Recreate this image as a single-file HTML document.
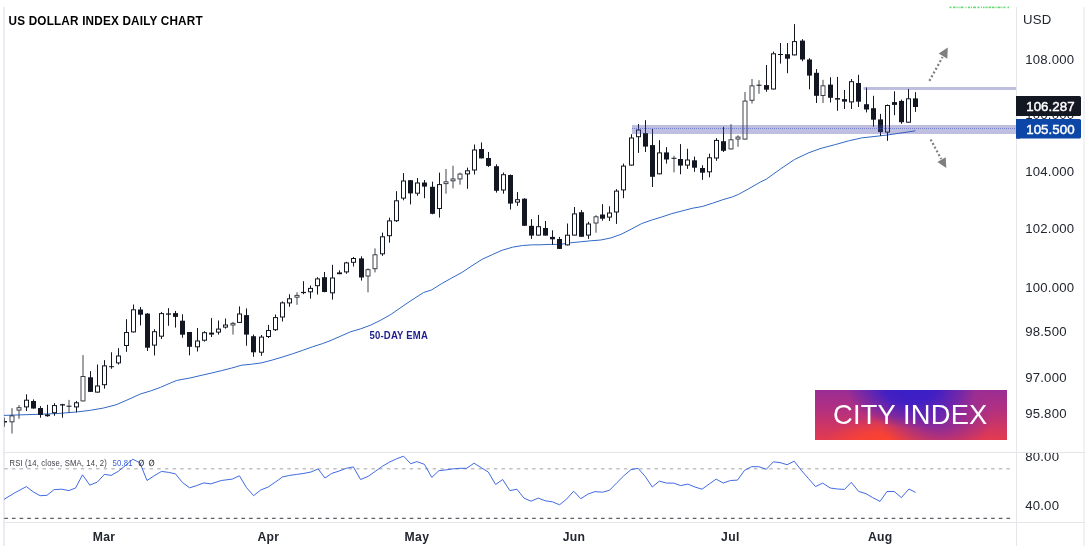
<!DOCTYPE html>
<html><head><meta charset="utf-8"><title>US Dollar Index Daily Chart</title>
<style>
html,body{margin:0;padding:0;background:#fff;}
body{width:1085px;height:546px;overflow:hidden;position:relative;font-family:"Liberation Sans",sans-serif;}
svg{position:absolute;left:0;top:0;will-change:transform;}
svg text{font-family:"Liberation Sans",sans-serif;}
#logo{position:absolute;left:815px;top:390px;width:192px;height:50px;
background:
 radial-gradient(ellipse 34% 85% at 50% -8%, rgba(56,30,200,1) 0%, rgba(56,30,200,0.9) 40%, rgba(56,30,200,0) 100%),
 radial-gradient(ellipse 30% 75% at 63% 55%, rgba(110,38,176,0.9) 0%, rgba(110,38,176,0) 100%),
 radial-gradient(ellipse 31% 55% at 36% 108%, rgba(255,68,44,1) 0%, rgba(255,68,44,0.7) 45%, rgba(255,68,44,0) 100%),
 linear-gradient(180deg, #9a2d94 0%, #b33080 40%, #d8385a 85%, #e23a50 100%);
}
#logo span{will-change:transform;position:absolute;left:17.9px;top:10.4px;color:#fff;font-size:27.3px;line-height:29px;letter-spacing:0.17px;white-space:nowrap;}
</style></head>
<body>
<svg width="1085" height="546" viewBox="0 0 1085 546">
<rect x="3.2" y="7" width="1.6" height="539" fill="#e6e8ee"/>
<rect x="1016" y="7" width="1" height="539" fill="#e5e6ea"/>
<rect x="1083.5" y="7" width="1" height="539" fill="#e5e6ea"/>
<rect x="4" y="452" width="1081" height="1" fill="#e5e6ea"/>
<rect x="4" y="522" width="1081" height="1" fill="#e5e6ea"/>
<g fill="#35cc44" opacity="0.75">
<rect x="949.5" y="6.6" width="2" height="1.6"/>
<rect x="953" y="6.6" width="2.5" height="1.6"/>
<rect x="956.5" y="6.6" width="1" height="1.6"/>
<rect x="958.5" y="6.6" width="1" height="1.6"/>
<rect x="960.5" y="6.6" width="3" height="1.6"/>
<rect x="965.5" y="6.6" width="1" height="1.6"/>
<rect x="968" y="6.6" width="2" height="1.6"/>
<rect x="971" y="6.6" width="1" height="1.6"/>
<rect x="973" y="6.6" width="3" height="1.6"/>
<rect x="977.5" y="6.6" width="2" height="1.6"/>
<rect x="981" y="6.6" width="1" height="1.6"/>
<rect x="983" y="6.6" width="1.5" height="1.6"/>
<rect x="985.5" y="6.6" width="2" height="1.6"/>
<rect x="988.5" y="6.6" width="2.5" height="1.6"/>
<rect x="992" y="6.6" width="2.5" height="1.6"/>
<rect x="995.5" y="6.6" width="1" height="1.6"/>
<rect x="997.5" y="6.6" width="3" height="1.6"/>
<rect x="1001.5" y="6.6" width="1" height="1.6"/>
<rect x="1003.5" y="6.6" width="2" height="1.6"/>
<rect x="1007.5" y="6.6" width="1.5" height="1.6"/>
</g>
<polyline points="3.9,415.4 19.4,414.9 38.7,414.3 58,413.5 77.4,411.9 90.3,410.3 103.2,408.1 116,404.8 120,403.1 130.1,398.7 140.3,394 150.4,391 160.6,387.3 170.7,382.9 176.8,380.4 191,377.8 201.1,375.4 211.2,373.1 221.4,370.7 231.5,368.1 241.7,365.2 251.8,364.2 261.9,362.8 272.1,360.1 282.2,357.1 292.3,353.9 302.5,350.4 312.6,346.8 322.8,343.5 330,340.8 340.1,336.4 350.3,331.9 360.4,328.9 370.6,325.2 380.7,320.2 390.8,314.5 401,307.4 411.1,300.5 423.6,292.5 431.7,289.9 441.5,283.7 451.7,278 461.8,272.5 471.9,265.8 482.1,259.3 492.2,254.7 502.3,250.2 512.5,247.2 522.6,245.5 532.8,244.8 540,244.8 550.1,244.4 560.3,244.4 570.4,242.8 580.6,241.8 590.7,240.8 600.8,240 611,237.9 621.1,234.3 631.2,229.2 641.4,223.7 651.5,220.1 661.7,217 671.8,213.6 681.9,211 692.1,208.3 702.2,206.5 712.3,203.3 722.5,199.8 732.6,196.8 738.7,194.3 748.8,188.7 760.3,182.1 766.4,179.1 780.6,168.9 794.7,159.4 808.9,152.7 821.1,148.3 835.3,144.6 849.5,140.6 861.7,137.9 877.9,136.1 888,134.9 902.2,132.8 915.4,130.8" fill="none" stroke="#3168c6" stroke-width="1" stroke-linejoin="round"/>
<clipPath id="cc"><rect x="4.4" y="7" width="1012" height="440"/></clipPath>
<g stroke="#131722" stroke-width="1" clip-path="url(#cc)">
<line x1="4.5" y1="417.7" x2="4.5" y2="426.8"/>
<rect x="2" y="421" width="5" height="1.5" fill="#131722" stroke="none"/>
<line x1="12" y1="408.1" x2="12" y2="433.5" stroke-opacity="0.8"/>
<rect x="10" y="415.9" width="4" height="5.9" fill="#fff" stroke-opacity="0.8"/>
<line x1="19" y1="405.1" x2="19" y2="418.8" stroke-opacity="0.8"/>
<rect x="17" y="407.7" width="4" height="2.4" fill="#fff" stroke-opacity="0.8"/>
<line x1="26.5" y1="394.3" x2="26.5" y2="411"/>
<rect x="24.5" y="400.2" width="4" height="6.7" fill="#fff"/>
<line x1="33.5" y1="399.4" x2="33.5" y2="408.7"/>
<rect x="31" y="401" width="5" height="7.5" fill="#131722" stroke="none"/>
<line x1="40.5" y1="406.1" x2="40.5" y2="417.7"/>
<rect x="38" y="408" width="5" height="6.9" fill="#131722" stroke="none"/>
<line x1="47.5" y1="404.8" x2="47.5" y2="416.7"/>
<rect x="45" y="414.5" width="5" height="1.7" fill="#131722" stroke="none"/>
<line x1="54.5" y1="403.2" x2="54.5" y2="415.8"/>
<rect x="52.5" y="405.6" width="4" height="7.1" fill="#fff"/>
<line x1="62.5" y1="403.8" x2="62.5" y2="417.7"/>
<rect x="60" y="404.2" width="5" height="1.3" fill="#131722" stroke="none"/>
<line x1="69" y1="399.9" x2="69" y2="412.8" stroke-opacity="0.8"/>
<rect x="66.5" y="405.7" width="5" height="1" fill="#131722" stroke="none"/>
<line x1="76.5" y1="401" x2="76.5" y2="412.3"/>
<rect x="74.5" y="402.8" width="4" height="4.1" fill="#fff"/>
<line x1="83" y1="355.1" x2="83" y2="401.4" stroke-opacity="0.8"/>
<rect x="81" y="376.5" width="4" height="24.4" fill="#fff" stroke-opacity="0.8"/>
<line x1="90.5" y1="371.1" x2="90.5" y2="391.9"/>
<rect x="88" y="377.3" width="5" height="14.6" fill="#131722" stroke="none"/>
<line x1="97.5" y1="364.5" x2="97.5" y2="392.6"/>
<rect x="95.5" y="386" width="4" height="6.1" fill="#fff"/>
<line x1="104.5" y1="360.1" x2="104.5" y2="388.7"/>
<rect x="102.5" y="365.9" width="4" height="18.8" fill="#fff"/>
<line x1="111.5" y1="352.3" x2="111.5" y2="368.8"/>
<rect x="109" y="366.2" width="5" height="1" fill="#131722" stroke="none"/>
<line x1="118.5" y1="348.2" x2="118.5" y2="364.5"/>
<rect x="116.5" y="356" width="4" height="6.9" fill="#fff"/>
<line x1="126.5" y1="319.2" x2="126.5" y2="351.8"/>
<rect x="124.5" y="332.5" width="4" height="13" fill="#fff"/>
<line x1="133.5" y1="304.5" x2="133.5" y2="332.4"/>
<rect x="131.5" y="309.8" width="4" height="22.1" fill="#fff"/>
<line x1="140.5" y1="307" x2="140.5" y2="325.5"/>
<rect x="138" y="309.5" width="5" height="5.2" fill="#131722" stroke="none"/>
<line x1="147.5" y1="313" x2="147.5" y2="351"/>
<rect x="145" y="313.6" width="5" height="34.1" fill="#131722" stroke="none"/>
<line x1="154.5" y1="329.2" x2="154.5" y2="355.5"/>
<rect x="152.5" y="331.7" width="4" height="13.4" fill="#fff"/>
<line x1="161.5" y1="311.9" x2="161.5" y2="339"/>
<rect x="159.5" y="313.6" width="4" height="22.6" fill="#fff"/>
<line x1="168.5" y1="308.1" x2="168.5" y2="325.8"/>
<rect x="166" y="313.4" width="5" height="1.3" fill="#131722" stroke="none"/>
<line x1="175.5" y1="310.9" x2="175.5" y2="327.6"/>
<rect x="173" y="313.1" width="5" height="3.8" fill="#131722" stroke="none"/>
<line x1="182.5" y1="314.3" x2="182.5" y2="337.7"/>
<rect x="180" y="320.7" width="5" height="14" fill="#131722" stroke="none"/>
<line x1="189.5" y1="332" x2="189.5" y2="355.4"/>
<rect x="187" y="332" width="5" height="14.8" fill="#131722" stroke="none"/>
<line x1="197.5" y1="328" x2="197.5" y2="351.5"/>
<rect x="195.5" y="341" width="4" height="5.8" fill="#fff"/>
<line x1="204.5" y1="331.2" x2="204.5" y2="341.6"/>
<rect x="202.5" y="332.7" width="4" height="7.5" fill="#fff"/>
<line x1="211.5" y1="318.1" x2="211.5" y2="337"/>
<rect x="209" y="332.6" width="5" height="2" fill="#131722" stroke="none"/>
<line x1="218.5" y1="320.5" x2="218.5" y2="334.6"/>
<rect x="216.5" y="329.1" width="4" height="3" fill="#fff"/>
<line x1="225.5" y1="318.5" x2="225.5" y2="328.6"/>
<rect x="223.5" y="325" width="4" height="2.1" fill="#fff"/>
<line x1="233" y1="321.9" x2="233" y2="334.6" stroke-opacity="0.8"/>
<rect x="231" y="323.4" width="4" height="1.6" fill="#fff" stroke-opacity="0.8"/>
<line x1="239.5" y1="306.4" x2="239.5" y2="322.9"/>
<rect x="237.5" y="314" width="4" height="8.4" fill="#fff"/>
<line x1="246.5" y1="308.4" x2="246.5" y2="345.7"/>
<rect x="244" y="315.1" width="5" height="19.5" fill="#131722" stroke="none"/>
<line x1="253.5" y1="334.6" x2="253.5" y2="356.8"/>
<rect x="251" y="336.2" width="5" height="16.1" fill="#131722" stroke="none"/>
<line x1="261.5" y1="335" x2="261.5" y2="355.8"/>
<rect x="259.5" y="337.1" width="4" height="15.1" fill="#fff"/>
<line x1="268.5" y1="324.9" x2="268.5" y2="338"/>
<rect x="266.5" y="330.5" width="4" height="6" fill="#fff"/>
<line x1="275.5" y1="314.5" x2="275.5" y2="331"/>
<rect x="273.5" y="317.6" width="4" height="12.1" fill="#fff"/>
<line x1="282.5" y1="301.4" x2="282.5" y2="321.5"/>
<rect x="280.5" y="302.9" width="4" height="14.1" fill="#fff"/>
<line x1="289.5" y1="294.3" x2="289.5" y2="306.8"/>
<rect x="287.5" y="298.8" width="4" height="4.1" fill="#fff"/>
<line x1="297" y1="292.3" x2="297" y2="304.8" stroke-opacity="0.8"/>
<rect x="295" y="295.4" width="4" height="1.8" fill="#fff" stroke-opacity="0.8"/>
<line x1="303.5" y1="281.2" x2="303.5" y2="294.2"/>
<rect x="301" y="291.9" width="5" height="1.2" fill="#131722" stroke="none"/>
<line x1="310.5" y1="285.6" x2="310.5" y2="298.6"/>
<rect x="308.5" y="288.4" width="4" height="3.4" fill="#fff"/>
<line x1="317.5" y1="277.2" x2="317.5" y2="294.5"/>
<rect x="315.5" y="278.9" width="4" height="6.8" fill="#fff"/>
<line x1="324.5" y1="272" x2="324.5" y2="292.3"/>
<rect x="322" y="277.2" width="5" height="14.8" fill="#131722" stroke="none"/>
<line x1="332.5" y1="264.8" x2="332.5" y2="299.6"/>
<rect x="330.5" y="278" width="4" height="14.8" fill="#fff"/>
<line x1="339.5" y1="270.3" x2="339.5" y2="274.2"/>
<rect x="337.5" y="272.9" width="4" height="0.8" fill="#fff"/>
<line x1="346.5" y1="261.8" x2="346.5" y2="273.8"/>
<rect x="344.5" y="262.9" width="4" height="9" fill="#fff"/>
<line x1="353.5" y1="257" x2="353.5" y2="266.5"/>
<rect x="351.5" y="258.5" width="4" height="3.8" fill="#fff"/>
<line x1="361.5" y1="256.3" x2="361.5" y2="280.6"/>
<rect x="359" y="258.4" width="5" height="19.1" fill="#131722" stroke="none"/>
<line x1="368" y1="268.3" x2="368" y2="292.3" stroke-opacity="0.8"/>
<rect x="366" y="269.7" width="4" height="6.3" fill="#fff" stroke-opacity="0.8"/>
<line x1="375" y1="248.4" x2="375" y2="272.4" stroke-opacity="0.8"/>
<rect x="373" y="254.8" width="4" height="13.9" fill="#fff" stroke-opacity="0.8"/>
<line x1="382.5" y1="232.6" x2="382.5" y2="255.9"/>
<rect x="380.5" y="236.8" width="4" height="17" fill="#fff"/>
<line x1="389.5" y1="217.6" x2="389.5" y2="242.6"/>
<rect x="387.5" y="220.9" width="4" height="14.8" fill="#fff"/>
<line x1="396.5" y1="191.2" x2="396.5" y2="222"/>
<rect x="394.5" y="200.8" width="4" height="19.9" fill="#fff"/>
<line x1="403.5" y1="173.1" x2="403.5" y2="200.3"/>
<rect x="401.5" y="181" width="4" height="17.1" fill="#fff"/>
<line x1="410.5" y1="180" x2="410.5" y2="204.4"/>
<rect x="408" y="180.2" width="5" height="13.2" fill="#131722" stroke="none"/>
<line x1="417.5" y1="178" x2="417.5" y2="195.8"/>
<rect x="415.5" y="183" width="4" height="10.2" fill="#fff"/>
<line x1="424.5" y1="180" x2="424.5" y2="198.2"/>
<rect x="422" y="182.5" width="5" height="4.1" fill="#131722" stroke="none"/>
<line x1="432.5" y1="181.7" x2="432.5" y2="214.3"/>
<rect x="430" y="186.8" width="5" height="27" fill="#131722" stroke="none"/>
<line x1="439.5" y1="172.6" x2="439.5" y2="217.6"/>
<rect x="437.5" y="184.6" width="4" height="23.9" fill="#fff"/>
<line x1="446" y1="169" x2="446" y2="193.7" stroke-opacity="0.8"/>
<rect x="444" y="181.8" width="4" height="1.8" fill="#fff" stroke-opacity="0.8"/>
<line x1="453" y1="165.7" x2="453" y2="188.4" stroke-opacity="0.8"/>
<rect x="451" y="179" width="4" height="1.8" fill="#fff" stroke-opacity="0.8"/>
<line x1="460" y1="172.6" x2="460" y2="184.6" stroke-opacity="0.8"/>
<rect x="458" y="174.1" width="4" height="4.8" fill="#fff" stroke-opacity="0.8"/>
<line x1="467.5" y1="167.6" x2="467.5" y2="188.8"/>
<rect x="465.5" y="170.8" width="4" height="3.1" fill="#fff"/>
<line x1="474.5" y1="144.5" x2="474.5" y2="174.5"/>
<rect x="472.5" y="150" width="4" height="20" fill="#fff"/>
<line x1="481.5" y1="142.4" x2="481.5" y2="158.4"/>
<rect x="479" y="149" width="5" height="9.4" fill="#131722" stroke="none"/>
<line x1="488.5" y1="152" x2="488.5" y2="166.9"/>
<rect x="486" y="158" width="5" height="7.9" fill="#131722" stroke="none"/>
<line x1="496.5" y1="164.3" x2="496.5" y2="192.6"/>
<rect x="494" y="166.2" width="5" height="24.6" fill="#131722" stroke="none"/>
<line x1="503.5" y1="172.5" x2="503.5" y2="193.7"/>
<rect x="501.5" y="174.7" width="4" height="15.3" fill="#fff"/>
<line x1="510.5" y1="174.5" x2="510.5" y2="209.5"/>
<rect x="508" y="175" width="5" height="28.6" fill="#131722" stroke="none"/>
<line x1="517.5" y1="192.1" x2="517.5" y2="205.9"/>
<rect x="515.5" y="199.7" width="4" height="2.4" fill="#fff"/>
<line x1="524.5" y1="198.2" x2="524.5" y2="225.8"/>
<rect x="522" y="198.7" width="5" height="27.1" fill="#131722" stroke="none"/>
<line x1="531.5" y1="219.1" x2="531.5" y2="238.9"/>
<rect x="529" y="225.8" width="5" height="9.8" fill="#131722" stroke="none"/>
<line x1="538.5" y1="214.9" x2="538.5" y2="235.6"/>
<rect x="536.5" y="226.7" width="4" height="8.4" fill="#fff"/>
<line x1="545.5" y1="221" x2="545.5" y2="235.6"/>
<rect x="543" y="228" width="5" height="7.6" fill="#131722" stroke="none"/>
<line x1="552.5" y1="230.3" x2="552.5" y2="244.8"/>
<rect x="550" y="236.9" width="5" height="2.4" fill="#131722" stroke="none"/>
<line x1="559.5" y1="236.9" x2="559.5" y2="248.9"/>
<rect x="557" y="239" width="5" height="9.9" fill="#131722" stroke="none"/>
<line x1="567.5" y1="223.5" x2="567.5" y2="245.4"/>
<rect x="565.5" y="235.2" width="4" height="9.7" fill="#fff"/>
<line x1="574.5" y1="207" x2="574.5" y2="235.6"/>
<rect x="572.5" y="213.9" width="4" height="21.2" fill="#fff"/>
<line x1="581.5" y1="210.1" x2="581.5" y2="236.8"/>
<rect x="579" y="212.2" width="5" height="24.6" fill="#131722" stroke="none"/>
<line x1="588.5" y1="221.8" x2="588.5" y2="238.9"/>
<rect x="586.5" y="224" width="4" height="11.1" fill="#fff"/>
<line x1="596" y1="215.2" x2="596" y2="232.7" stroke-opacity="0.8"/>
<rect x="594" y="216.8" width="4" height="6.2" fill="#fff" stroke-opacity="0.8"/>
<line x1="602.5" y1="204.2" x2="602.5" y2="220.7"/>
<rect x="600" y="214.5" width="5" height="4.2" fill="#131722" stroke="none"/>
<line x1="609.5" y1="206.3" x2="609.5" y2="221"/>
<rect x="607.5" y="213" width="4" height="4.1" fill="#fff"/>
<line x1="616.5" y1="189.1" x2="616.5" y2="223.9"/>
<rect x="614.5" y="191.1" width="4" height="20.9" fill="#fff"/>
<line x1="623.5" y1="163.6" x2="623.5" y2="198.2"/>
<rect x="621.5" y="166.1" width="4" height="23.8" fill="#fff"/>
<line x1="631.5" y1="134.2" x2="631.5" y2="165.6"/>
<rect x="629.5" y="138" width="4" height="27.1" fill="#fff"/>
<line x1="638.5" y1="124" x2="638.5" y2="152.9"/>
<rect x="636.5" y="130" width="4" height="6.7" fill="#fff"/>
<line x1="645.5" y1="120.2" x2="645.5" y2="152"/>
<rect x="643" y="133.1" width="5" height="13.5" fill="#131722" stroke="none"/>
<line x1="652.5" y1="129" x2="652.5" y2="187"/>
<rect x="650" y="145.1" width="5" height="31.7" fill="#131722" stroke="none"/>
<line x1="659.5" y1="140.2" x2="659.5" y2="174.3"/>
<rect x="657.5" y="152.9" width="4" height="20.9" fill="#fff"/>
<line x1="666.5" y1="147.1" x2="666.5" y2="163.6"/>
<rect x="664" y="152.4" width="5" height="7.1" fill="#131722" stroke="none"/>
<line x1="674" y1="155.8" x2="674" y2="172.3" stroke-opacity="0.8"/>
<rect x="671.5" y="157.8" width="5" height="1" fill="#131722" stroke="none"/>
<line x1="680.5" y1="144.1" x2="680.5" y2="174.3"/>
<rect x="678" y="159" width="5" height="6.6" fill="#131722" stroke="none"/>
<line x1="687.5" y1="148.8" x2="687.5" y2="168.9"/>
<rect x="685.5" y="160" width="4" height="5.1" fill="#fff"/>
<line x1="694.5" y1="156.5" x2="694.5" y2="171.8"/>
<rect x="692" y="160.3" width="5" height="7.4" fill="#131722" stroke="none"/>
<line x1="702.5" y1="165.2" x2="702.5" y2="179.8"/>
<rect x="700" y="168" width="5" height="4.7" fill="#131722" stroke="none"/>
<line x1="709.5" y1="153.7" x2="709.5" y2="177.3"/>
<rect x="707.5" y="157.8" width="4" height="14" fill="#fff"/>
<line x1="716.5" y1="138.1" x2="716.5" y2="160.8"/>
<rect x="714.5" y="140.4" width="4" height="17.6" fill="#fff"/>
<line x1="723.5" y1="126.8" x2="723.5" y2="152"/>
<rect x="721" y="141.2" width="5" height="9.6" fill="#131722" stroke="none"/>
<line x1="731" y1="124.2" x2="731" y2="149.4" stroke-opacity="0.8"/>
<rect x="729" y="139.8" width="4" height="9.1" fill="#fff" stroke-opacity="0.8"/>
<line x1="738" y1="135.3" x2="738" y2="146.8" stroke-opacity="0.8"/>
<rect x="736" y="137.1" width="4" height="1.9" fill="#fff" stroke-opacity="0.8"/>
<line x1="745" y1="92" x2="745" y2="139.6" stroke-opacity="0.8"/>
<rect x="743" y="101.1" width="4" height="38" fill="#fff" stroke-opacity="0.8"/>
<line x1="752" y1="79" x2="752" y2="103.5" stroke-opacity="0.8"/>
<rect x="750" y="85.9" width="4" height="14.4" fill="#fff" stroke-opacity="0.8"/>
<line x1="759" y1="80.2" x2="759" y2="93.8" stroke-opacity="0.8"/>
<rect x="756.5" y="84.7" width="5" height="1" fill="#131722" stroke="none"/>
<line x1="766.5" y1="65" x2="766.5" y2="91.8"/>
<rect x="764" y="85.1" width="5" height="4.6" fill="#131722" stroke="none"/>
<line x1="773.5" y1="51.6" x2="773.5" y2="89.5"/>
<rect x="771.5" y="53.8" width="4" height="35.2" fill="#fff"/>
<line x1="780.5" y1="43" x2="780.5" y2="63.6"/>
<rect x="778" y="54" width="5" height="1" fill="#131722" stroke="none"/>
<line x1="787.5" y1="43" x2="787.5" y2="73.2"/>
<rect x="785" y="54.2" width="5" height="4.5" fill="#131722" stroke="none"/>
<line x1="794.5" y1="24.1" x2="794.5" y2="55.4"/>
<rect x="792.5" y="41.6" width="4" height="13.3" fill="#fff"/>
<line x1="802.5" y1="39.2" x2="802.5" y2="61.2"/>
<rect x="800" y="40.6" width="5" height="18.9" fill="#131722" stroke="none"/>
<line x1="809.5" y1="58.2" x2="809.5" y2="89.3"/>
<rect x="807" y="59.5" width="5" height="16.1" fill="#131722" stroke="none"/>
<line x1="816.5" y1="69.1" x2="816.5" y2="103"/>
<rect x="814" y="72.8" width="5" height="23" fill="#131722" stroke="none"/>
<line x1="823" y1="79.8" x2="823" y2="103" stroke-opacity="0.8"/>
<rect x="821" y="85.8" width="4" height="9.7" fill="#fff" stroke-opacity="0.8"/>
<line x1="830.5" y1="77.2" x2="830.5" y2="102.5"/>
<rect x="828" y="84.6" width="5" height="13.2" fill="#131722" stroke="none"/>
<line x1="837.5" y1="76.9" x2="837.5" y2="110.8"/>
<rect x="835" y="98.1" width="5" height="1.5" fill="#131722" stroke="none"/>
<line x1="844.5" y1="90" x2="844.5" y2="109"/>
<rect x="842" y="99.1" width="5" height="2.5" fill="#131722" stroke="none"/>
<line x1="851.5" y1="79" x2="851.5" y2="109"/>
<rect x="849.5" y="81.7" width="4" height="20.2" fill="#fff"/>
<line x1="858.5" y1="74.8" x2="858.5" y2="107"/>
<rect x="856" y="83" width="5" height="18.7" fill="#131722" stroke="none"/>
<line x1="866.5" y1="87.5" x2="866.5" y2="112.4"/>
<rect x="864" y="104.2" width="5" height="5.3" fill="#131722" stroke="none"/>
<line x1="873.5" y1="95.8" x2="873.5" y2="126.8"/>
<rect x="871" y="108.2" width="5" height="11.5" fill="#131722" stroke="none"/>
<line x1="880.5" y1="113.9" x2="880.5" y2="135.9"/>
<rect x="878" y="119.4" width="5" height="12.7" fill="#131722" stroke="none"/>
<line x1="887.5" y1="104.5" x2="887.5" y2="140.8"/>
<rect x="885.5" y="105.5" width="4" height="26.6" fill="#fff"/>
<line x1="894.5" y1="91.3" x2="894.5" y2="115.2"/>
<rect x="892" y="102.1" width="5" height="2.8" fill="#131722" stroke="none"/>
<line x1="901.5" y1="99.6" x2="901.5" y2="123.8"/>
<rect x="899" y="100.9" width="5" height="21.3" fill="#131722" stroke="none"/>
<line x1="908.5" y1="88.9" x2="908.5" y2="122.7"/>
<rect x="906.5" y="98.8" width="4" height="23.4" fill="#fff"/>
<line x1="915.5" y1="92.2" x2="915.5" y2="111.9"/>
<rect x="913" y="98.4" width="5" height="8.6" fill="#131722" stroke="none"/>
</g>
<rect x="632" y="125" width="384" height="9" fill="rgb(69,69,169)" fill-opacity="0.35"/>
<line x1="632" y1="128.5" x2="1016" y2="128.5" stroke="#3f55c0" stroke-width="1" stroke-dasharray="1 1" opacity="0.55"/>
<rect x="863.5" y="87" width="152.5" height="3" fill="rgb(69,69,169)" fill-opacity="0.35"/>
<g stroke="#7f7f7f" fill="#7f7f7f">
<line x1="929.4" y1="80.9" x2="942.6" y2="57" stroke-width="2.2" stroke-dasharray="2 2.3"/>
<polygon points="947.8,47.6 938.7,53.6 947.3,58.7" stroke="none"/>
<line x1="930.6" y1="139.4" x2="941.2" y2="159" stroke-width="2.2" stroke-dasharray="2 2.2"/>
<polygon points="945.7,157.3 937.4,162.1 946.3,168.1" stroke="none"/>
</g>
<line x1="4.3" y1="468.7" x2="1012" y2="468.7" stroke="#c2c2c2" stroke-width="1.5" stroke-dasharray="3.4 4.25"/>
<line x1="4.3" y1="518.4" x2="1012" y2="518.4" stroke="#5c6068" stroke-width="1.1" stroke-dasharray="3.6 4.05"/>
<polyline points="4.1,499.3 15.2,492.6 26.4,486.6 33.5,492 40.1,495.7 47,495.3 54.1,489.6 61.8,489.2 68.9,490.6 75.6,488 82.5,474.8 89.8,485.1 97.3,482.1 104.4,474.4 111.1,475.4 118.2,471.4 125.7,465.3 132.8,459.2 139.9,462.8 147,480.5 154.1,475.8 161.6,471.4 168.7,472.4 175.4,473.8 182.5,482.5 189.6,487.8 196.7,485.6 203.8,482.9 210.9,483.9 221.2,480.5 232.3,479.1 239.4,475.8 246.5,487.6 253.6,495.7 260.7,490 268.2,487 275.3,482.1 282.4,477 289.7,475.4 296.8,474.4 303.9,473.4 311,472 318.1,468.9 325,478 331.7,473.4 339.2,471 346.3,468.3 353.3,466.9 360.6,479.5 368.1,476.4 375.2,471.4 382.3,466.3 389.4,462.2 396.5,458.8 403.6,456.2 410.7,463.7 416.8,461.6 424.4,464.3 431.8,477.4 438.9,470.7 445.7,469.9 452.8,468.9 459.9,468.3 466.6,468.3 474.1,463.2 481.2,467.7 488.3,472 495.6,484.5 502.7,479.5 509.8,490.6 516.9,489.2 524,498.1 531.1,501.2 538.2,498.1 545.3,500.8 552.4,501.8 559.5,504.8 566.6,499.1 573.7,491.2 580.8,498.7 587.9,494.1 595,491.6 602.5,492.2 609.6,490.2 616.7,482.9 623.8,475.8 630.9,469.7 638,468.3 645.2,476.4 652.3,487 659.4,481.1 666.5,483.1 673.6,483.1 680.7,485.6 687.8,484.1 694.9,487 702,489.2 709.1,484.1 716.2,479.1 723.3,483.1 730.4,480.5 737.5,480.1 744.6,470.3 751.7,466.7 758.8,466.7 766.3,469.3 773.4,461.8 780,462.6 787.1,464.7 794.2,461.2 801.3,470.3 808.4,478.5 815.5,486.6 822.6,483.1 830.3,488 837.4,489 844.5,489.4 851.3,482.4 858.5,491.3 866,493.7 872.7,497.6 880,501.4 887,491.5 894.2,491.5 901.4,497.6 908.9,489 915.6,492.4" fill="none" stroke="#3762e0" stroke-width="0.95" stroke-linejoin="round"/>
<text x="1023" y="23.8" font-size="13.2" fill="#22262f" font-weight="normal" text-anchor="start" letter-spacing="0.2" >USD</text>
<text x="1025.2" y="63.8" font-size="13.2" fill="#22262f" font-weight="normal" text-anchor="start" letter-spacing="0.2" >108.000</text>
<text x="1025.2" y="119.3" font-size="13.2" fill="#22262f" font-weight="normal" text-anchor="start" letter-spacing="0.2" >106.000</text>
<text x="1025.2" y="175.8" font-size="13.2" fill="#22262f" font-weight="normal" text-anchor="start" letter-spacing="0.2" >104.000</text>
<text x="1025.2" y="232.8" font-size="13.2" fill="#22262f" font-weight="normal" text-anchor="start" letter-spacing="0.2" >102.000</text>
<text x="1025.2" y="291.8" font-size="13.2" fill="#22262f" font-weight="normal" text-anchor="start" letter-spacing="0.2" >100.000</text>
<text x="1025.2" y="336.3" font-size="13.2" fill="#22262f" font-weight="normal" text-anchor="start" letter-spacing="0.2" >98.500</text>
<text x="1025.2" y="381.7" font-size="13.2" fill="#22262f" font-weight="normal" text-anchor="start" letter-spacing="0.2" >97.000</text>
<text x="1025.2" y="418.4" font-size="13.2" fill="#22262f" font-weight="normal" text-anchor="start" letter-spacing="0.2" >95.800</text>
<rect x="1016" y="96" width="65" height="20" rx="1.5" fill="#131722"/>
<rect x="1016" y="119" width="65" height="19.6" rx="1.5" fill="#0c46a6"/>
<rect x="1016" y="96" width="4" height="20" fill="#131722"/>
<rect x="1016" y="119" width="4" height="19.6" fill="#0c46a6"/>
<text x="1026.2" y="111.3" font-size="13.3" fill="#fff" font-weight="normal" text-anchor="start" letter-spacing="0.05" stroke="#fff" stroke-width="0.45">106.287</text>
<text x="1026.2" y="134.1" font-size="13.3" fill="#fff" font-weight="normal" text-anchor="start" letter-spacing="0.05" stroke="#fff" stroke-width="0.45">105.500</text>
<clipPath id="c80"><rect x="1017" y="453" width="67" height="20"/></clipPath>
<text x="1025.2" y="460.9" font-size="13.2" fill="#22262f" font-weight="normal" text-anchor="start" letter-spacing="0.2" clip-path="url(#c80)">80.00</text>
<text x="1025.2" y="509.9" font-size="13.2" fill="#22262f" font-weight="normal" text-anchor="start" letter-spacing="0.2" >40.00</text>
<text x="104" y="541.3" font-size="12.2" fill="#22262f" font-weight="bold" text-anchor="middle" letter-spacing="0.35" >Mar</text>
<text x="268.4" y="541.3" font-size="12.2" fill="#22262f" font-weight="bold" text-anchor="middle" letter-spacing="0.35" >Apr</text>
<text x="417" y="541.3" font-size="12.2" fill="#22262f" font-weight="bold" text-anchor="middle" letter-spacing="0.35" >May</text>
<text x="574" y="541.3" font-size="12.2" fill="#22262f" font-weight="bold" text-anchor="middle" letter-spacing="0.35" >Jun</text>
<text x="730.4" y="541.3" font-size="12.2" fill="#22262f" font-weight="bold" text-anchor="middle" letter-spacing="0.35" >Jul</text>
<text x="880.3" y="541.3" font-size="12.2" fill="#22262f" font-weight="bold" text-anchor="middle" letter-spacing="0.35" >Aug</text>
<text x="369.5" y="338.8" font-size="10.4" fill="#1c1f8c" font-weight="bold" text-anchor="start" letter-spacing="0.2" textLength="58.5" lengthAdjust="spacingAndGlyphs">50-DAY EMA</text>
<text x="8.5" y="25" font-size="12.2" fill="#000" font-weight="bold" text-anchor="start" letter-spacing="0.2" textLength="194.3" lengthAdjust="spacingAndGlyphs">US DOLLAR INDEX DAILY CHART</text>
<text x="9.5" y="465.9" font-size="9" fill="#3c3f47" font-weight="normal" text-anchor="start" letter-spacing="0.2" textLength="97.5" lengthAdjust="spacingAndGlyphs">RSI (14, close, SMA, 14, 2)</text>
<text x="112.5" y="465.9" font-size="9" fill="#3b64e0" font-weight="normal" text-anchor="start" letter-spacing="0.2" textLength="20.3" lengthAdjust="spacingAndGlyphs">50.81</text>
<g stroke="#2a2d35" fill="none"><ellipse cx="141.3" cy="462.9" rx="2.3" ry="2.9" stroke-width="0.85"/><line x1="139.10000000000002" y1="465.9" x2="143.5" y2="459.9" stroke-width="0.55"/></g>
<g stroke="#2a2d35" fill="none"><ellipse cx="151.6" cy="462.9" rx="2.3" ry="2.9" stroke-width="0.85"/><line x1="149.4" y1="465.9" x2="153.79999999999998" y2="459.9" stroke-width="0.55"/></g>
</svg>
<div id="logo"><span>CITY INDEX</span></div>
</body></html>
